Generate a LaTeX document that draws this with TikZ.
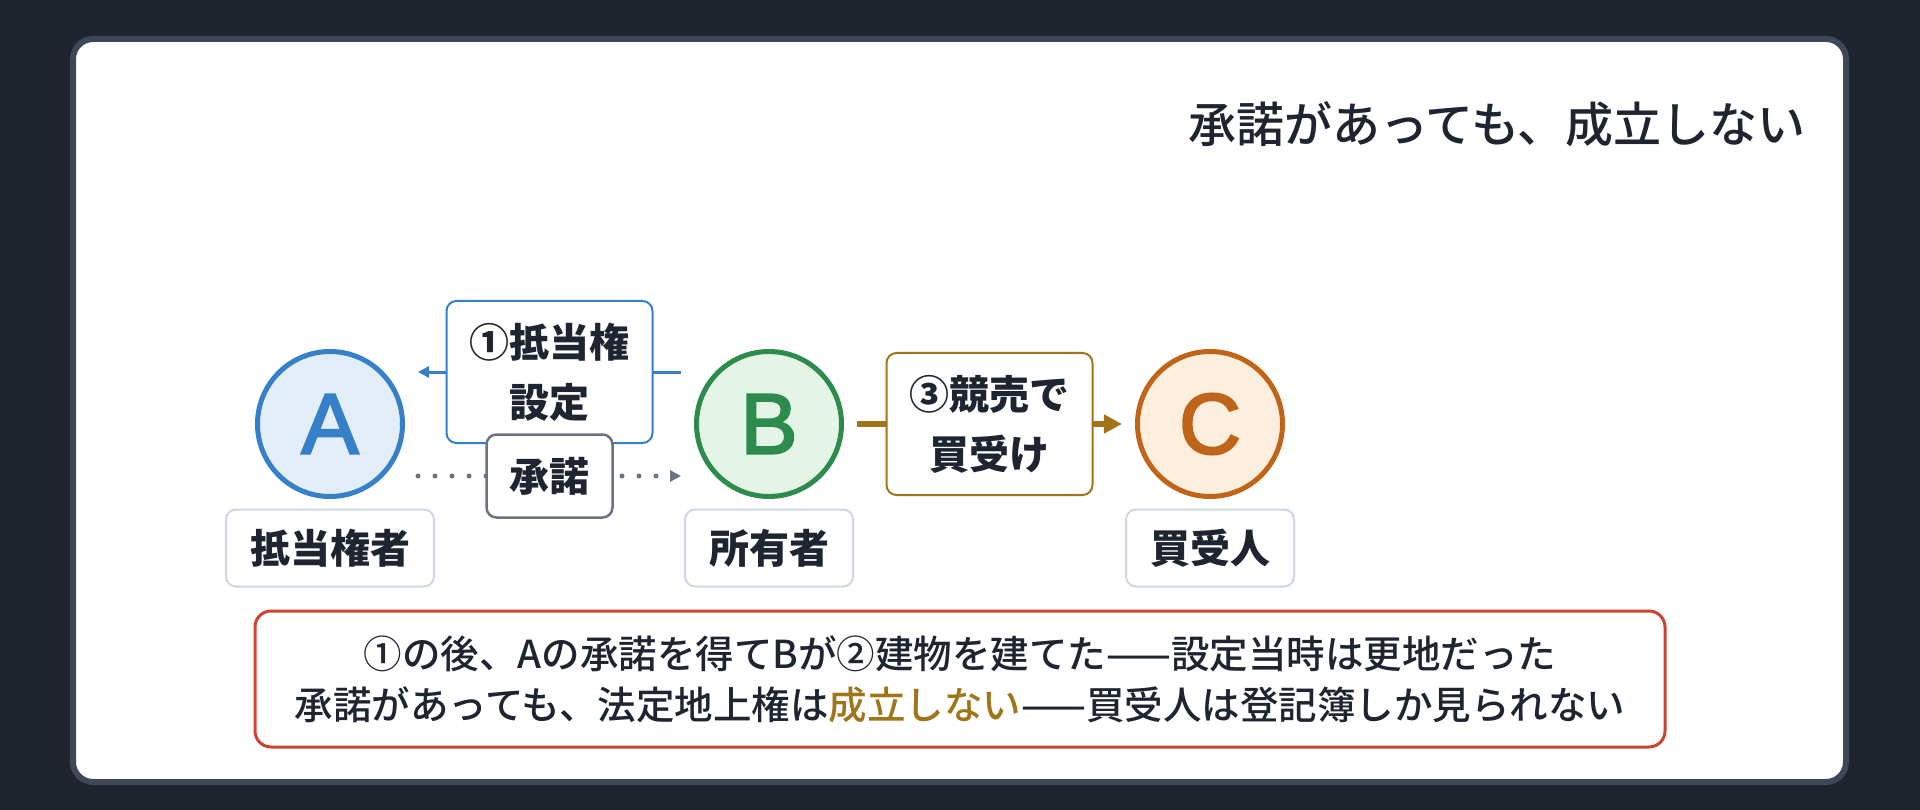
\documentclass[tikz,border=0pt]{standalone}
\usepackage{fontspec}
\setmainfont{Noto Sans CJK JP}
\newfontfamily\jpmed{Noto Sans CJK JP}[UprightFont=* Medium]
\newfontfamily\latinf{Liberation Sans}[FakeBold=2.5]
\usetikzlibrary{arrows.meta}
\definecolor{bg}{HTML}{1E252F}
\definecolor{panelborder}{HTML}{3E4858}
\definecolor{ink}{HTML}{1E2530}
\definecolor{blueA}{HTML}{3580C8}
\definecolor{blueFill}{HTML}{E3EEF9}
\definecolor{greenB}{HTML}{2E8B4E}
\definecolor{greenFill}{HTML}{E4F5E8}
\definecolor{orangeC}{HTML}{C0641A}
\definecolor{orangeFill}{HTML}{FDEEDD}
\definecolor{brownL}{HTML}{A07418}
\definecolor{grayL}{HTML}{6B7280}
\definecolor{labelBorder}{HTML}{CED7E2}
\definecolor{redB}{HTML}{CC4430}
\begin{document}
\begin{tikzpicture}[x=1pt,y=-1pt,
  person/.style={circle, minimum size=145pt, line width=5pt, inner sep=0pt,
    font=\latinf\fontsize{86pt}{86pt}\selectfont},
  tag/.style={rectangle, draw=labelBorder, line width=2pt, fill=white, rounded corners=10pt,
    minimum height=77pt, inner xsep=24pt, inner ysep=0pt, text=ink,
    font=\fontsize{40pt}{60pt}\selectfont\bfseries},
  stepbox/.style={rectangle, solid, rounded corners=10pt, fill=white, line width=2pt, text=ink,
    minimum width=206pt, minimum height=142pt, inner sep=0pt, align=center,
    font=\fontsize{40pt}{60pt}\selectfont\bfseries},
  smallbox/.style={rectangle, solid, rounded corners=10pt, fill=white, line width=2.5pt, text=ink,
    draw=grayL, minimum width=126pt, minimum height=83pt, inner sep=0pt, align=center,
    font=\fontsize{40pt}{60pt}\selectfont\bfseries},
]
\fill[bg] (0,0) rectangle (1920,810);
\useasboundingbox (0,0) rectangle (1920,810);
\draw[panelborder, line width=6pt, fill=white, rounded corners=20pt] (73,39) rectangle (1846,782);

\node[anchor=east, inner sep=0pt, text=ink, font=\jpmed\fontsize{48pt}{48pt}\selectfont] (title) at (1806,124) {承諾があっても、成立しない};

\node[person, draw=blueA, fill=blueFill, text=blueA] (A) at (330,424) {A};
\node[person, draw=greenB, fill=greenFill, text=greenB] (B) at (769,424) {B};
\node[person, draw=orangeC, fill=orangeFill, text=orangeC] (C) at (1210,424) {C};

\node[tag] (Al) at (330,548) {抵当権者};
\node[tag] (Bl) at (769,548) {所有者};
\node[tag] (Cl) at (1210,548) {買受人};

\coordinate (a1) at ([xshift=13pt,yshift=52pt]A.east);
\coordinate (b1) at ([xshift=-13pt,yshift=52pt]B.west);
\draw[blueA, line width=3pt, -{Triangle[length=11pt,width=11pt]}] (b1) -- node[stepbox, draw=blueA] (s1) {①抵当権\\設定} (a1);

\coordinate (a2) at ([xshift=13pt,yshift=-52pt]A.east);
\coordinate (b2) at ([xshift=-13pt,yshift=-52pt]B.west);
\draw[grayL, line width=5pt, line cap=round, dash pattern=on 0pt off 17pt, -{Triangle[length=11pt,width=11pt]}] (a2) -- node[smallbox] (s2) {承諾} (b2);

\draw[brownL, line width=6pt, -{Triangle[length=18pt,width=18pt]}] ([xshift=13pt]B.east) -- node[stepbox, draw=brownL] (s3) {③競売で\\買受け} ([xshift=-13pt]C.west);

\node[draw=redB, line width=3pt, rounded corners=16pt, fill=white, minimum width=1410pt, minimum height=136pt,
  inner sep=0pt, align=center, text=ink, font=\jpmed\fontsize{38.5pt}{51pt}\selectfont] (note) at (960,679)
  {①の後、Aの承諾を得てBが②建物を建てた——設定当時は更地だった\\承諾があっても、法定地上権は\textcolor{brownL}{成立しない}——買受人は登記簿しか見られない};
\end{tikzpicture}
\end{document}
